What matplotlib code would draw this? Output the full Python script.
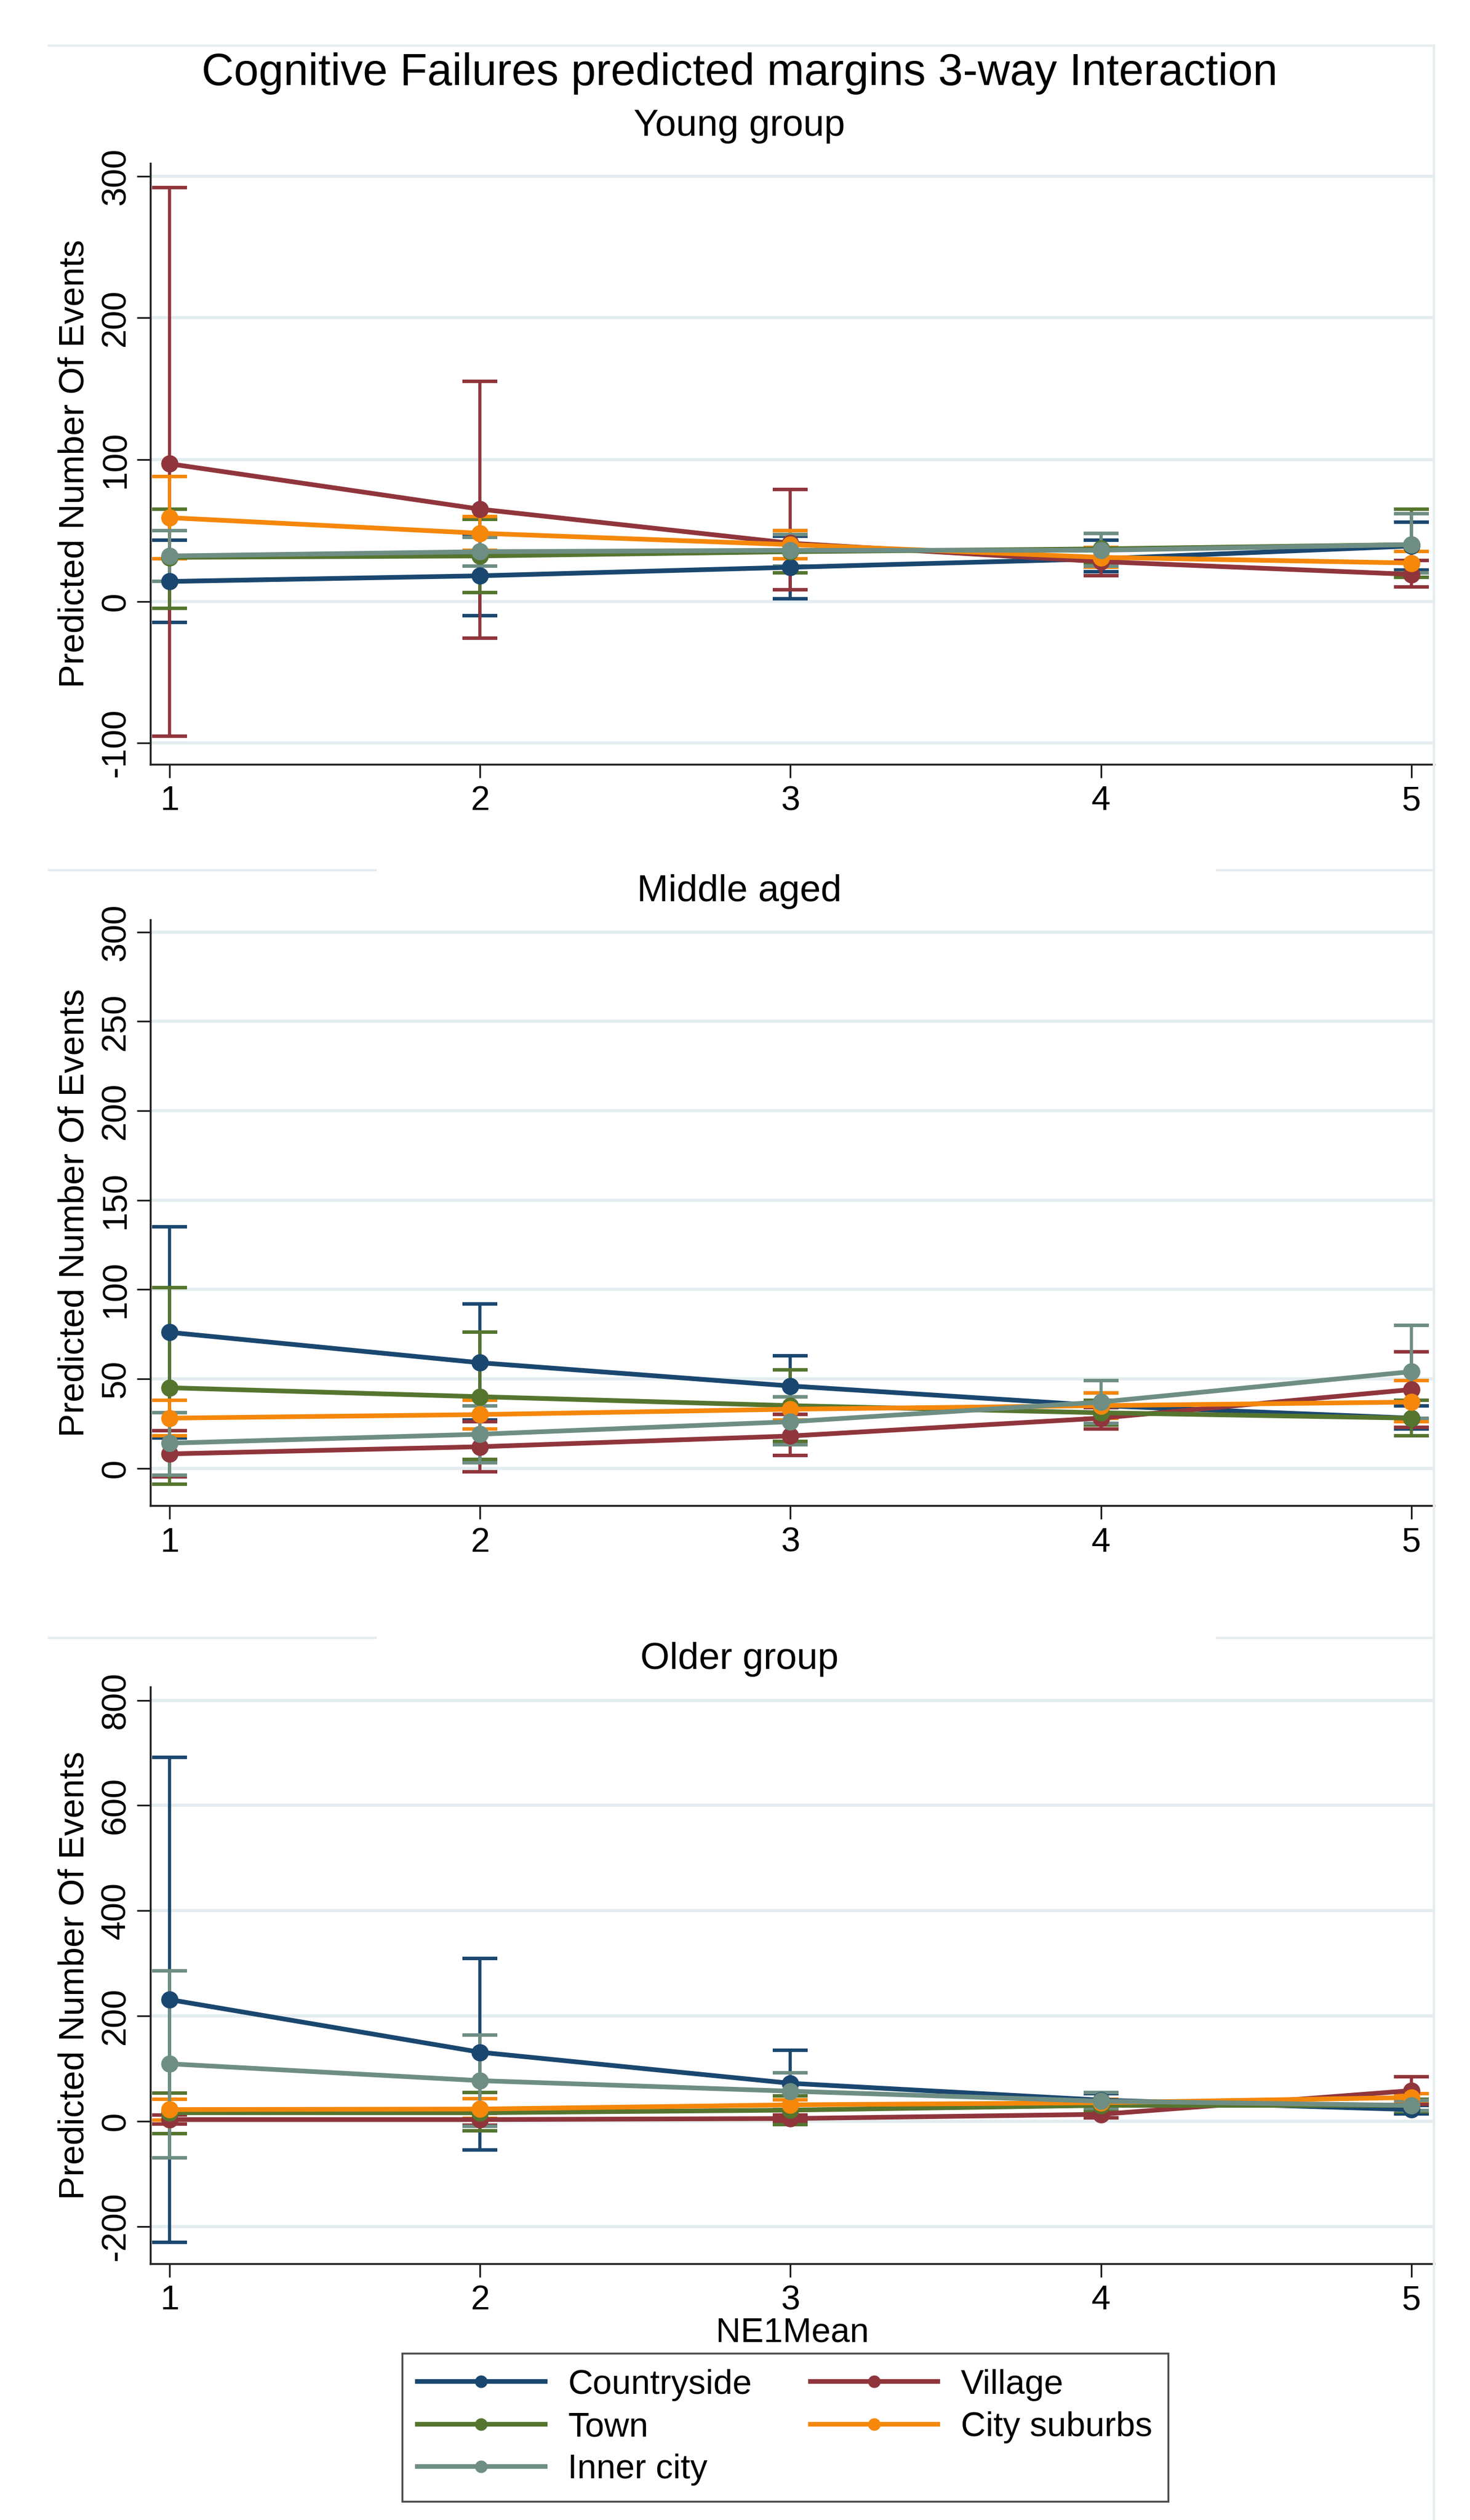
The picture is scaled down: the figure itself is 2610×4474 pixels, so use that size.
import matplotlib
matplotlib.use("Agg")
import matplotlib.pyplot as plt
from matplotlib.lines import Line2D

plt.rcParams['font.family'] = ['Liberation Sans', 'DejaVu Sans']
plt.rcParams['axes.unicode_minus'] = False

x = [1, 2, 3, 4, 5]
series = ["Countryside", "Village", "Town", "City suburbs", "Inner city"]
colors = ["#1a476f", "#90353b", "#55752f", "#f5870a", "#6e8e84"]

# Young group: margin estimate, lower / upper CI
young_est = {"Countryside": [14, 18, 24, 30, 39], "Village": [97, 65, 41, 28, 19],
             "Town": [31, 32, 35, 37, 40], "City suburbs": [59, 48, 40, 31, 27],
             "Inner city": [32, 35, 36, 36, 40]}
young_lo = {"Countryside": [-15, -10, 2, 21, 22], "Village": [-95, -26, 8, 18, 10],
            "Town": [-5, 6, 20, 27, 17], "City suburbs": [30, 36, 30, 24, 20],
            "Inner city": [14, 25, 25, 25, 20]}
young_hi = {"Countryside": [43, 46, 46, 43, 56], "Village": [292, 155, 79, 38, 29],
            "Town": [65, 58, 50, 48, 65], "City suburbs": [88, 60, 50, 38, 35],
            "Inner city": [50, 45, 47, 48, 62]}

# Middle aged
middle_est = {"Countryside": [76, 59, 46, 35, 28], "Village": [8, 12, 18, 28, 44],
              "Town": [45, 40, 35, 31, 28], "City suburbs": [28, 30, 33, 35, 37],
              "Inner city": [14, 19, 26, 37, 54]}
middle_lo = {"Countryside": [17, 27, 30, 28, 22], "Village": [-5, -2, 7, 22, 23],
             "Town": [-9, 5, 15, 24, 18], "City suburbs": [18, 22, 27, 28, 26],
             "Inner city": [-4, 3, 13, 25, 28]}
middle_hi = {"Countryside": [135, 92, 63, 42, 35], "Village": [21, 26, 30, 34, 65],
             "Town": [101, 76, 55, 38, 38], "City suburbs": [38, 38, 40, 42, 49],
             "Inner city": [31, 35, 40, 49, 80]}

# Older group
older_est = {"Countryside": [231, 131, 72, 40, 22], "Village": [3, 3, 5, 13, 58],
             "Town": [16, 16, 21, 30, 30], "City suburbs": [22, 23, 31, 35, 45],
             "Inner city": [109, 77, 57, 38, 30]}
older_lo = {"Countryside": [-230, -55, 10, 28, 14], "Village": [-6, -8, -2, 6, 32],
            "Town": [-24, -18, -7, 20, 18], "City suburbs": [2, 5, 20, 28, 38],
            "Inner city": [-70, -10, 22, 25, 20]}
older_hi = {"Countryside": [692, 309, 135, 52, 30], "Village": [12, 15, 12, 20, 84],
            "Town": [53, 55, 48, 40, 42], "City suburbs": [42, 43, 41, 42, 52],
            "Inner city": [286, 164, 92, 54, 40]}

panels = [
    ("Young group", young_est, young_lo, young_hi, [-100, 0, 100, 200, 300], (-115, 309)),
    ("Middle aged", middle_est, middle_lo, middle_hi, [0, 50, 100, 150, 200, 250, 300], (-21, 307)),
    ("Older group", older_est, older_lo, older_hi, [-200, 0, 200, 400, 600, 800], (-271, 825)),
]
# axes boxes in figure fraction
boxes = [(0.1022, 0.6967, 0.8734, 0.2385),
         (0.1022, 0.4025, 0.8734, 0.2326),
         (0.1022, 0.1017, 0.8734, 0.2288)]
subtitle_y = [0.950, 0.6461, 0.3415]

fig = plt.figure(figsize=(26.1, 44.74), dpi=100)
grid_col = "#e3ecee"
frame_col = "#e6edef"

for (name, est, lo, hi, yticks, ylim), box, sy in zip(panels, boxes, subtitle_y):
    ax = fig.add_axes(box)
    for s, c in zip(series, colors):
        e = est[s]
        err = [[e[i] - lo[s][i] for i in range(5)], [hi[s][i] - e[i] for i in range(5)]]
        ax.errorbar(x, e, yerr=err, color=c, lw=6, marker='o', ms=21,
                    elinewidth=4, capsize=22, capthick=4.5, zorder=3)
    ax.set_xlim(0.937, 5.074)
    ax.set_ylim(*ylim)
    ax.set_xticks(x)
    ax.set_yticks(yticks)
    ax.grid(axis='y', color=grid_col, lw=4)
    ax.set_axisbelow(True)
    for sp in ['top', 'right']:
        ax.spines[sp].set_visible(False)
    for sp in ['left', 'bottom']:
        ax.spines[sp].set_linewidth(2.5)
        ax.spines[sp].set_color("#222222")
    ax.tick_params(axis='both', length=17, width=2.2, labelsize=44, color="#222222")
    ax.tick_params(axis='x', pad=10)
    ax.tick_params(axis='y', pad=6, labelrotation=90)
    for lab in ax.get_yticklabels():
        lab.set_va('center')
    ax.set_ylabel("Predicted Number Of Events", fontsize=45, labelpad=12)
    fig.text(0.503, sy, name, ha='center', va='center', fontsize=48)
    last_ax = ax

last_ax.set_xlabel("NE1Mean", fontsize=44, labelpad=0)

fig.text(0.503, 0.9708, "Cognitive Failures predicted margins 3-way Interaction",
         ha='center', va='center', fontsize=57)

# faint graph-region outlines
fig.add_artist(Line2D([0.0333, 0.9756], [0.9819, 0.9819], transform=fig.transFigure, color=frame_col, lw=3))
fig.add_artist(Line2D([0.9756, 0.9756], [0.0, 0.9819], transform=fig.transFigure, color=frame_col, lw=3))
for yy in [0.6546, 0.35]:
    fig.add_artist(Line2D([0.0333, 0.2556], [yy, yy], transform=fig.transFigure, color=frame_col, lw=3))
    fig.add_artist(Line2D([0.8278, 0.9756], [yy, yy], transform=fig.transFigure, color=frame_col, lw=3))

handles = [Line2D([0], [0], color=c, lw=6, marker='o', ms=15) for c in colors]
# column-major fill gives rows: Countryside/Village, Town/City suburbs, Inner city
order = [0, 2, 4, 1, 3]
leg = fig.legend([handles[i] for i in order], [series[i] for i in order],
                 loc='upper center', bbox_to_anchor=(0.534, 0.0661), ncol=2,
                 fontsize=44, frameon=True, fancybox=False, edgecolor="#222222",
                 handlelength=3.7, handletextpad=0.67, columnspacing=1.7,
                 labelspacing=0.3, borderpad=0.45, borderaxespad=0)
leg.get_frame().set_linewidth(2.5)

fig.savefig("out.png", dpi=100, facecolor='white')
